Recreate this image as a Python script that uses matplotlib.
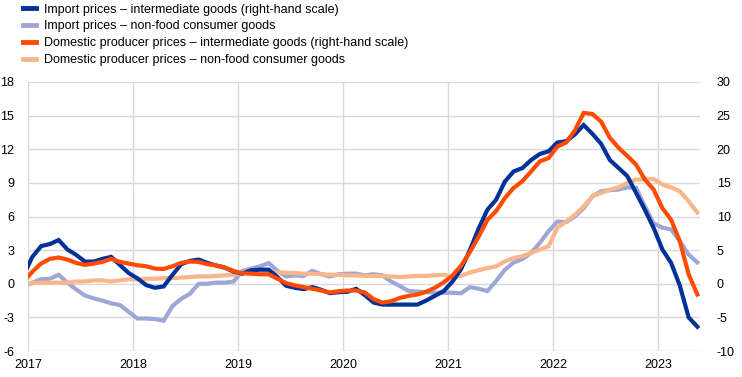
import matplotlib
matplotlib.use("Agg")
import matplotlib.pyplot as plt
import matplotlib.transforms as mtransforms
import numpy as np

plt.rcParams['font.family'] = ['Liberation Sans', 'DejaVu Sans']

# Monthly data, Dec 2016 .. May 2023 (points plotted mid-month)
start_year, start_month = 2016, 12

import_intermediate = [  # right-hand scale
    1.3,
    4.0, 5.6, 5.9, 6.5, 5.1, 4.3, 3.3, 3.3, 3.7, 4.0, 2.8, 1.6,
    0.8, -0.2, -0.6, -0.4, 1.3, 2.9, 3.4, 3.6, 3.1, 2.7, 2.4, 1.8,
    1.5, 2.0, 2.1, 2.1, 1.0, -0.3, -0.6, -0.8, -0.5, -0.9, -1.4, -1.25,
    -1.2, -0.75, -1.7, -2.8, -3.1, -3.1, -3.1, -3.1, -3.1, -2.5, -1.8, -1.1,
    0.3, 2.2, 5.0, 8.2, 11.0, 12.5, 15.2, 16.7, 17.2, 18.4, 19.3, 19.7,
    21.0, 21.2, 22.2, 23.6, 22.3, 20.8, 18.4, 17.2, 16.0, 13.5, 11.0, 8.3,
    5.1, 3.1, -0.3, -5.0, -6.4,
]
import_nonfood = [  # left-hand scale
    -0.2,
    0.1, 0.4, 0.45, 0.8, 0.1, -0.5, -1.05, -1.3, -1.5, -1.75, -1.9, -2.5,
    -3.1, -3.1, -3.15, -3.3, -2.0, -1.35, -0.9, 0.0, 0.0, 0.1, 0.1, 0.2,
    1.15, 1.35, 1.55, 1.85, 1.15, 0.65, 0.75, 0.7, 1.15, 0.85, 0.65, 0.85,
    0.9, 0.9, 0.75, 0.85, 0.75, 0.2, -0.2, -0.65, -0.7, -0.75, -0.8, -0.8,
    -0.8, -0.85, -0.3, -0.45, -0.65, 0.25, 1.25, 1.9, 2.2, 2.75, 3.65, 4.7,
    5.55, 5.5, 6.0, 6.75, 7.8, 8.25, 8.35, 8.4, 8.6, 8.55, 6.9, 5.4,
    5.0, 4.85, 3.8, 2.6, 1.9,
]
domestic_intermediate = [  # right-hand scale
    0.3,
    1.8, 3.0, 3.7, 3.9, 3.6, 3.1, 2.8, 3.0, 3.25, 3.7, 3.25, 3.0,
    2.75, 2.6, 2.25, 2.2, 2.6, 3.1, 3.3, 3.25, 2.9, 2.75, 2.4, 1.9,
    1.55, 1.5, 1.4, 1.4, 0.75, 0.1, -0.25, -0.5, -0.75, -1.0, -1.3, -1.1,
    -1.0, -1.0, -1.3, -2.3, -2.8, -2.6, -2.1, -1.8, -1.6, -1.2, -0.6, 0.2,
    1.2, 2.7, 4.7, 7.0, 9.5, 10.8, 12.75, 14.25, 15.25, 16.7, 18.2, 18.7,
    20.4, 21.0, 22.8, 25.4, 25.25, 24.1, 21.7, 20.2, 19.0, 17.7, 15.5, 14.0,
    11.25, 9.5, 6.3, 1.4, -1.6,
]
domestic_nonfood = [  # left-hand scale
    0.0,
    0.05, 0.1, 0.1, 0.1, 0.1, 0.2, 0.2, 0.3, 0.3, 0.2, 0.3, 0.4,
    0.4, 0.45, 0.45, 0.5, 0.5, 0.55, 0.6, 0.65, 0.65, 0.7, 0.75, 0.8,
    0.95, 1.05, 1.05, 1.05, 1.0, 1.0, 0.95, 0.9, 0.9, 0.85, 0.8, 0.8,
    0.75, 0.75, 0.7, 0.7, 0.7, 0.65, 0.6, 0.65, 0.7, 0.7, 0.75, 0.8,
    0.65, 0.7, 1.0, 1.2, 1.4, 1.55, 2.0, 2.3, 2.45, 2.75, 3.05, 3.35,
    5.0, 5.55, 6.15, 6.9, 7.8, 8.1, 8.4, 8.6, 9.0, 9.3, 9.3, 9.35,
    8.85, 8.6, 8.25, 7.35, 6.35,
]

labels = [
    "Import prices \u2013 intermediate goods (right-hand scale)",
    "Import prices \u2013 non-food consumer goods",
    "Domestic producer prices \u2013 intermediate goods (right-hand scale)",
    "Domestic producer prices \u2013 non-food consumer goods",
]
year_labels = ["2017", "2018", "2019", "2020", "2021", "2022", "2023"]
left_ticks = [-6, -3, 0, 3, 6, 9, 12, 15, 18]
right_ticks = [-10, -5, 0, 5, 10, 15, 20, 25, 30]

c_dblue = "#003299"
c_lblue = "#9ea6d6"
c_red = "#ff4b00"
c_lorange = "#f9b68a"

n = len(import_intermediate)
# months since Jan 2017, mid-month positions
x = np.array([(start_year - 2017) * 12 + (start_month - 1) + i + 0.5 for i in range(n)])

fig = plt.figure(figsize=(7.42, 3.77), dpi=100)
ax = fig.add_axes([28 / 742, (377 - 351) / 377, (700 - 28) / 742, (351 - 82) / 377])
ax2 = ax.twinx()

lw = 3.0
ax.plot(x, import_nonfood, color=c_lblue, lw=lw, solid_joinstyle='miter', zorder=3)
ax.plot(x, domestic_nonfood, color=c_lorange, lw=lw, solid_joinstyle='miter', zorder=4)
ax2.plot(x, import_intermediate, color=c_dblue, lw=lw, solid_joinstyle='miter', zorder=3)
ax2.plot(x, domestic_intermediate, color=c_red, lw=lw, solid_joinstyle='miter', zorder=4)

ax.set_xlim(0, 76.8)
ax.set_ylim(-6, 18)
ax2.set_ylim(-10, 30)
ax.set_yticks(left_ticks)
ax2.set_yticks(right_ticks)
ax.set_yticklabels([str(t) for t in left_ticks])
ax2.set_yticklabels([str(t) for t in right_ticks])

year_pos = [12 * i for i in range(len(year_labels))]
ax.set_xticks(year_pos)
ax.set_xticklabels(year_labels)
offset = mtransforms.ScaledTranslation(3 / 100, 0, fig.dpi_scale_trans)
for lab in ax.get_xticklabels():
    lab.set_transform(lab.get_transform() + offset)

ax.grid(True, color="#d9d9d9", lw=1.0)
ax.set_axisbelow(True)
for a in (ax, ax2):
    for s in a.spines.values():
        s.set_visible(False)
    a.tick_params(length=0, labelsize=9, colors="#000000")
ax.tick_params(axis='y', pad=10)
ax2.tick_params(axis='y', pad=12)
ax.tick_params(axis='x', pad=6)

# Legend
handles = [
    plt.Line2D([], [], color=c_dblue, lw=3.5),
    plt.Line2D([], [], color=c_lblue, lw=3.5),
    plt.Line2D([], [], color=c_red, lw=3.5),
    plt.Line2D([], [], color=c_lorange, lw=3.5),
]
fig.legend(handles, labels, loc='upper left', bbox_to_anchor=(22 / 742, 1 - 3 / 377),
           frameon=False, fontsize=9, handlelength=1.1, handletextpad=0.6,
           labelspacing=0.38, borderaxespad=0, borderpad=0.05)

fig.savefig("out.png", dpi=100)
